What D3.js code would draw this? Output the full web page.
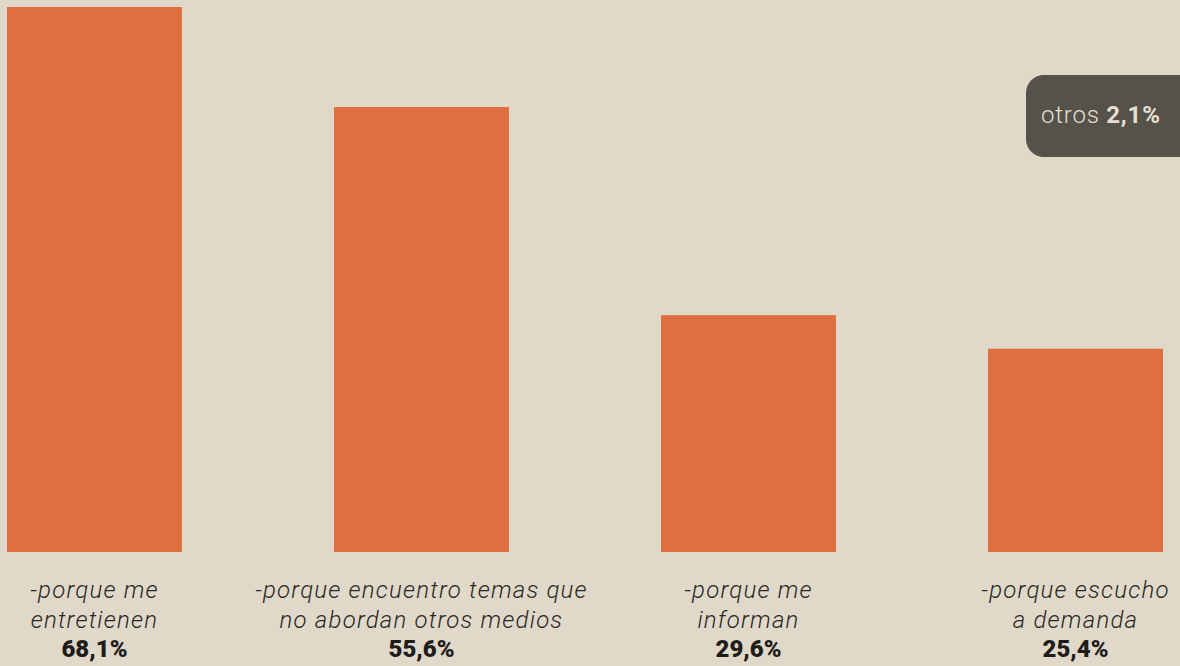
<!DOCTYPE html>
<html>
<head>
<meta charset="utf-8">
<script src="https://cdn.jsdelivr.net/npm/d3@7"></script>
<style>
  html, body { margin: 0; padding: 0; background: #e0d9ca; }
  svg { display: block; }
</style>
</head>
<body>
<div id="chart"></div>
<script>
// data
const categories = [
  ['-porque me', 'entretienen'],
  ['-porque encuentro temas que', 'no abordan otros medios'],
  ['-porque me', 'informan'],
  ['-porque escucho', 'a demanda']
]
const values = [68.1, 55.6, 29.6, 25.4]
const valueLabels = ['68,1%', '55,6%', '29,6%', '25,4%']
const otherLabel = 'otros'
const otherValue = '2,1%'

const width = 1180
const height = 666
const baseY = 552

const svg = d3.select('#chart')
  .append('svg')
  .attr('width', width)
  .attr('height', height)

svg.append('rect')
  .attr('width', width)
  .attr('height', height)
  .attr('fill', '#e0d9ca')

const idx = d3.range(values.length)

const x = d3.scaleBand()
  .domain(idx)
  .range([7, 1163])
  .paddingInner(0.465)
  .paddingOuter(0)

const y = d3.scaleLinear()
  .domain([0, d3.max(values)])
  .range([baseY, 7])

// bars
svg.selectAll('.bar')
  .data(idx)
  .enter()
  .append('rect')
  .attr('class', 'bar')
  .attr('x', function (i) { return x(i) })
  .attr('y', function (i) { return y(values[i]) })
  .attr('width', x.bandwidth())
  .attr('height', function (i) { return baseY - y(values[i]) })
  .attr('fill', '#e06f40')

// category labels, two italic lines plus bold value
const labels = svg.selectAll('.lab')
  .data(idx)
  .enter()
  .append('text')
  .attr('class', 'lab')
  .attr('text-anchor', 'middle')
  .attr('font-family', 'Roboto, "Noto Sans", sans-serif')
  .attr('fill', '#2a2824')

labels.each(function (i) {
  const t = d3.select(this)
  const cx = x(i) + x.bandwidth() / 2
  t.append('tspan')
    .attr('x', cx)
    .attr('y', 598)
    .attr('font-size', 24)
    .attr('letter-spacing', 1.2)
    .attr('font-style', 'italic')
    .attr('font-weight', 300)
    .text(categories[i][0])
  t.append('tspan')
    .attr('x', cx)
    .attr('y', 628)
    .attr('font-size', 24)
    .attr('letter-spacing', 1.2)
    .attr('font-style', 'italic')
    .attr('font-weight', 300)
    .text(categories[i][1])
  t.append('tspan')
    .attr('x', cx)
    .attr('y', 657)
    .attr('font-size', 24)
    .attr('font-weight', 900)
    .attr('fill', '#1f1d1a')
    .text(valueLabels[i])
})

// "otros" tab on the right
svg.append('rect')
  .attr('x', 1026)
  .attr('y', 75)
  .attr('width', 190)
  .attr('height', 82)
  .attr('rx', 18)
  .attr('fill', '#55524a')

const other = svg.append('text')
  .attr('x', 1041)
  .attr('y', 123)
  .attr('font-family', 'Roboto, "Noto Sans", sans-serif')
  .attr('font-size', 24)
  .attr('letter-spacing', 0.8)
  .attr('fill', '#e6dfd0')

other.append('tspan')
  .attr('font-weight', 300)
  .text(otherLabel + ' ')
other.append('tspan')
  .attr('font-weight', 700)
  .text(otherValue)
</script>
</body>
</html>
